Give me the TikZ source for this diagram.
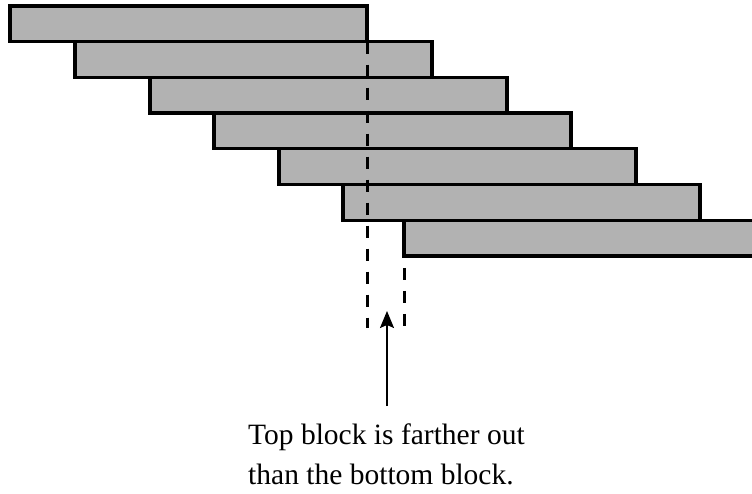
\documentclass[tikz,border=0pt]{standalone}
\usepackage{fontspec}
\setmainfont{Liberation Serif}
\usetikzlibrary{arrows.meta}
\begin{document}
\begin{tikzpicture}[x=1pt,y=-1pt,
  blockbox/.style={draw=black,line width=3.3pt,fill=black!30,anchor=north west,inner sep=0pt,minimum width=357pt,minimum height=35.7pt,outer sep=0pt},
  guide/.style={draw=black,line width=3pt,dash pattern=on 12pt off 11pt},
  pointer/.style={draw=black,line width=1.6pt,-{Stealth[length=17pt,width=14pt,inset=3pt]}},
  notetext/.style={font=\fontsize{29.5}{40}\selectfont,inner sep=0pt,anchor=base west}]
\useasboundingbox (0,0) rectangle (752,494);
\node[blockbox] (b1) at (10,6) {};
\node[blockbox] (b2) at (75,41.7) {};
\node[blockbox] (b3) at (150,77.4) {};
\node[blockbox] (b4) at (214,113.1) {};
\node[blockbox] (b5) at (279,148.8) {};
\node[blockbox] (b6) at (343,184.5) {};
\node[blockbox] (b7) at (404,220.2) {};
\coordinate (l1end) at (367,328);
\coordinate (l2end) at (404,327);
\draw[guide] (b1.south east) -- (l1end);
\draw[guide,dash phase=11pt] (b7.south west) -- (l2end);
\node[notetext] (n1) at (248,444) {Top block is farther out};
\node[notetext] (n2) at (248,484) {than the bottom block.};
\coordinate (tail) at (387,406);
\coordinate (tip) at (387,311);
\draw[pointer] (tail) -- (tip);
\end{tikzpicture}
\end{document}
